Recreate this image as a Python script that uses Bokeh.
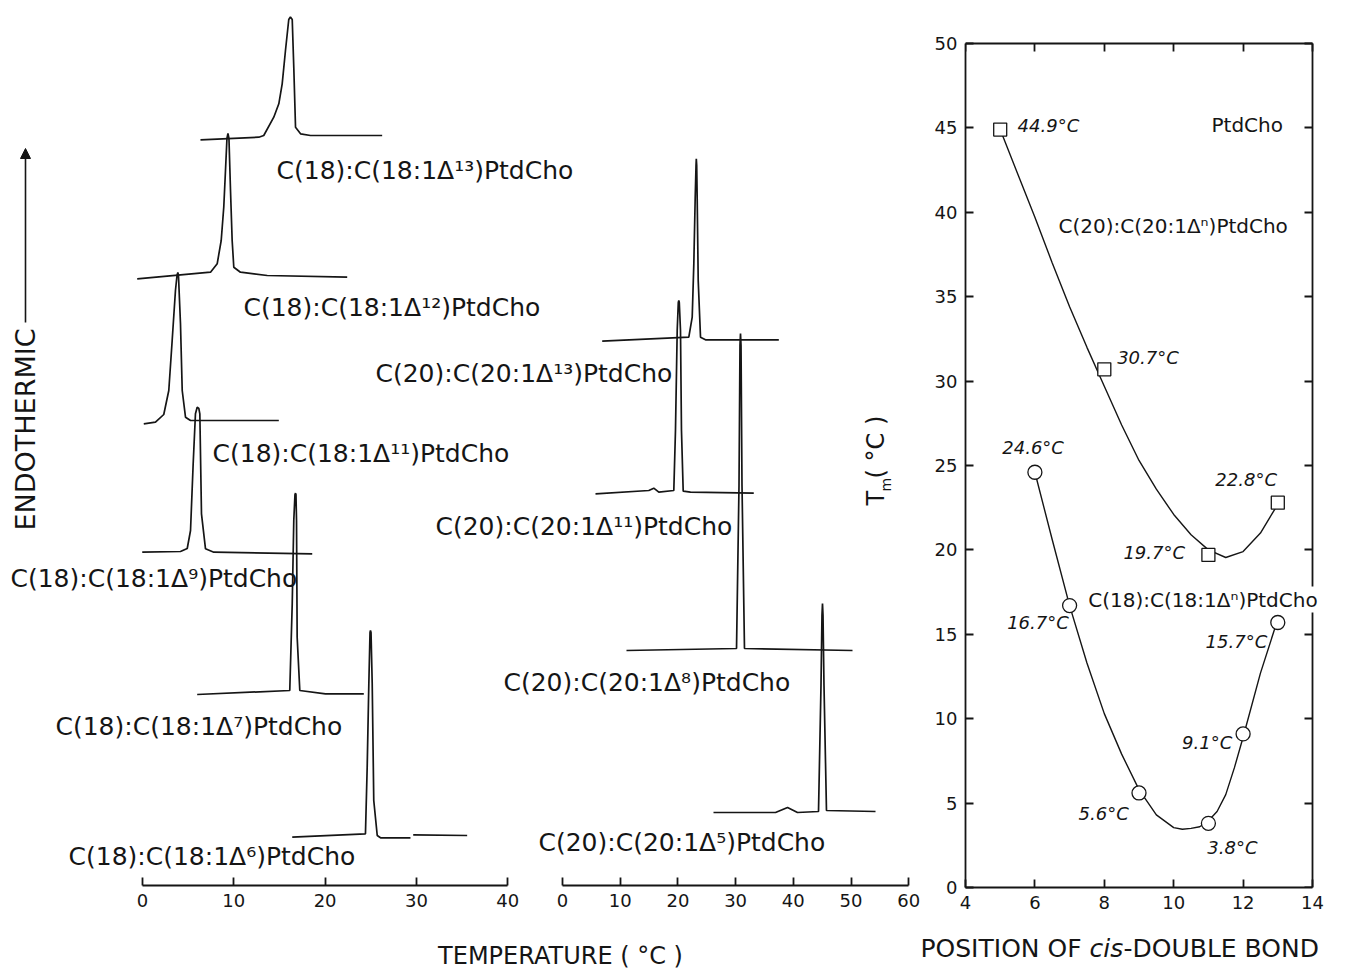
import math
from bokeh.plotting import figure
from bokeh.models import Range1d, LinearAxis, FixedTicker, Label, Arrow, NormalHead
from bokeh.layouts import row, column
from bokeh.embed import file_html
from bokeh.resources import INLINE

# ---------------- data ----------------
# Right panel: transition temperature vs position of the cis double bond
c18_positions = [6, 7, 9, 11, 12, 13]
c18_tm = [24.6, 16.7, 5.6, 3.8, 9.1, 15.7]
c20_positions = [5, 8, 11, 13]
c20_tm = [44.9, 30.7, 19.7, 22.8]

# fitted curves
c20_fit_x = [5.0, 5.5, 6.0, 6.5, 7.0, 7.5, 8.0, 8.5, 9.0, 9.5, 10.0, 10.5, 11.0, 11.5, 12.0, 12.5, 13.0]
c20_fit_y = [44.9, 42.3, 39.7, 37.0, 34.4, 32.0, 29.7, 27.4, 25.3, 23.6, 22.1, 20.9, 20.0, 19.55, 19.9, 21.0, 22.7]
c18_fit_x = [6.0, 6.5, 7.0, 7.5, 8.0, 8.5, 9.0, 9.5, 10.0, 10.25, 10.5, 10.75, 11.0, 11.25, 11.5, 11.75, 12.0, 12.5, 13.0]
c18_fit_y = [24.6, 20.6, 16.7, 13.3, 10.3, 7.9, 5.8, 4.3, 3.55, 3.45, 3.5, 3.6, 3.95, 4.5, 5.5, 7.1, 8.9, 12.7, 15.9]

# DSC thermograms: temperature (deg C) and endothermic signal (arbitrary units, stacked)
nan = float("nan")
c18_d13_T = [6.35, 12.74, 13.28, 14.38, 14.93, 15.30, 15.66, 16.02, 16.20, 16.40, 16.57, 16.76, 17.31, 18.40, 26.25]
c18_d13_S = [745.7, 748.3, 750.0, 768.3, 781.7, 801.7, 835.0, 866.0, 868.5, 866.0, 818.3, 758.3, 751.7, 750.0, 750.0]
c18_d12_T = [-0.58, 7.45, 8.18, 8.62, 8.90, 9.09, 9.25, 9.36, 9.47, 9.64, 9.82, 10.00, 10.73, 13.66, 22.42]
c18_d12_S = [606.7, 613.3, 621.7, 645.0, 678.3, 715.0, 747.0, 752.0, 747.0, 695.0, 645.0, 618.3, 613.3, 610.0, 608.3]
c18_d11_T = [0.14, 1.42, 2.33, 2.88, 3.25, 3.61, 3.78, 3.87, 3.94, 4.16, 4.35, 4.71, 5.26, 14.93]
c18_d11_S = [461.7, 463.3, 471.0, 495.0, 545.0, 595.0, 610.0, 613.0, 610.0, 562.0, 495.0, 468.3, 465.0, 465.0]
c18_d9_T = [-0.03, 4.16, 4.90, 5.26, 5.55, 5.80, 5.99, 6.17, 6.28, 6.46, 6.90, 7.81, 18.59]
c18_d9_S = [333.3, 334.0, 337.0, 355.0, 421.7, 471.7, 478.3, 477.0, 471.7, 371.7, 336.7, 333.3, 331.7]
c18_d7_T = [5.99, 16.13, 16.40, 16.57, 16.70, 16.76, 16.81, 16.87, 16.94, 17.23, 20.04, 24.24]
c18_d7_S = [191.0, 195.0, 281.7, 365.0, 391.0, 392.3, 391.0, 365.0, 248.3, 195.0, 191.7, 191.7]
c18_d6_T = [16.40, 24.42, 24.61, 24.79, 24.92, 24.97, 25.03, 25.16, 25.33, 25.71, 26.07, 29.35, nan, 29.65, 35.56]
c18_d6_S = [48.3, 51.7, 118.3, 201.7, 253.0, 255.0, 253.0, 201.7, 85.0, 50.0, 47.7, 47.7, nan, 50.7, 50.0]

c20_d13_T = [6.88, 21.89, 22.48, 22.76, 23.00, 23.14, 23.19, 23.26, 23.34, 23.52, 23.92, 24.78, 37.49]
c20_d13_S = [544.3, 548.3, 568.3, 621.7, 688.3, 720.0, 726.7, 720.0, 688.3, 605.0, 548.3, 545.7, 545.7]
c20_d11_T = [5.72, 14.96, 15.82, 16.69, 19.29, 19.58, 19.88, 20.07, 20.16, 20.24, 20.45, 20.62, 20.92, 22.18, 33.15]
c20_d11_S = [391.7, 395.0, 397.3, 393.3, 395.0, 455.0, 555.0, 583.0, 585.0, 583.0, 555.0, 455.0, 394.3, 393.3, 392.3]
c20_d8_T = [11.09, 30.16, 30.59, 30.76, 30.85, 30.94, 31.11, 31.54, 50.26]
c20_d8_S = [235.0, 237.0, 400.0, 540.0, 552.0, 540.0, 400.0, 237.0, 235.0]
c20_d5_T = [26.17, 36.92, 39.00, 40.73, 44.37, 44.80, 44.97, 45.06, 45.15, 45.32, 45.75, 54.25]
c20_d5_S = [73.0, 73.0, 78.0, 73.0, 74.0, 200.0, 270.0, 282.0, 270.0, 200.0, 75.0, 74.0]

c18_traces = [(13, c18_d13_T, c18_d13_S), (12, c18_d12_T, c18_d12_S), (11, c18_d11_T, c18_d11_S),
              (9, c18_d9_T, c18_d9_S), (7, c18_d7_T, c18_d7_S), (6, c18_d6_T, c18_d6_S)]
c20_traces = [(13, c20_d13_T, c20_d13_S), (11, c20_d11_T, c20_d11_S),
              (8, c20_d8_T, c20_d8_S), (5, c20_d5_T, c20_d5_S)]

left_ticks = [0, 10, 20, 30, 40]
mid_ticks = [0, 10, 20, 30, 40, 50, 60]
pos_ticks = [4, 6, 8, 10, 12, 14]
tm_ticks = [0, 5, 10, 15, 20, 25, 30, 35, 40, 45, 50]

# ---------------- layout / style ----------------
INK = "#151515"
FONT = "DejaVu Sans"
SUP = str.maketrans("0123456789n", "⁰¹²³⁴⁵⁶⁷⁸⁹ⁿ")
PX18, PX20 = 9.13, 5.77      # px per deg C in the two thermogram panels
X0_18, X0_20 = 142, 562      # screen x of 0 deg C
PXPOS, PXTM = 34.7, 16.88    # px per unit in the right panel
W, H = 1356, 969


def name(chain, n):
    return f"C({chain}):C({chain}:1Δ{str(n).translate(SUP)})PtdCho"


# label anchors (left edge, vertical middle) for the thermogram names
c18_label_pos = {13: (14.68, 715), 12: (11.06, 578), 11: (7.67, 432), 9: (-14.46, 307), 7: (-9.53, 159), 6: (-8.10, 29)}
c20_label_pos = {13: (-32.41, 512), 11: (-22.01, 359), 8: (-10.23, 203), 5: (-4.16, 43)}
# right-panel value label anchors
c18_val_pos = {6: (5.06, 26.07), 7: (5.2, 15.7), 9: (7.26, 4.38), 11: (10.97, 2.37), 12: (10.24, 8.59), 13: (10.92, 14.57)}
c20_val_pos = {5: (5.50, 45.17), 8: (8.37, 31.4), 11: (8.55, 19.85), 13: (11.2, 24.2)}


def base_fig(width, height, xr, yr, **borders):
    b = dict(min_border_left=0, min_border_right=0, min_border_top=0, min_border_bottom=0)
    b.update(borders)
    return figure(width=width, height=height, x_range=xr, y_range=yr, x_axis_type=None, y_axis_type=None,
                  toolbar_location=None, output_backend="svg", title_location=None,
                  outline_line_color=None, background_fill_color="white", border_fill_color="white", **b)


def style_axis(ax, ticks, show=True, tick_in=8, tick_out=0):
    ax.ticker = FixedTicker(ticks=ticks, minor_ticks=[])
    ax.minor_tick_line_color = None
    ax.major_tick_in = tick_in
    ax.major_tick_out = tick_out
    ax.axis_line_width = 1.8
    ax.major_tick_line_width = 1.8
    ax.axis_line_color = INK
    ax.major_tick_line_color = INK
    ax.major_label_text_font = FONT
    ax.major_label_text_font_size = "18px" if show else "1px"
    ax.major_label_text_color = INK if show else None
    ax.major_label_standoff = 8 if show else 0


def lab(fig, x, y, text, size, **kw):
    d = dict(text_font=FONT, text_font_size=size, text_color=INK, text_baseline="middle", text_align="left")
    d.update(kw)
    fig.add_layout(Label(x=x, y=y, text=text, **d))


# ---------------- left block: thermograms ----------------
LW, MAIN_H, STRIP_H, TOP_H = 920, 875, 55, 930
AX_Y = 885  # screen y of the temperature axes
main = base_fig(LW, MAIN_H, Range1d(-X0_18 / PX18, (LW - X0_18) / PX18), Range1d(AX_Y - MAIN_H, AX_Y))
main.extra_x_ranges = {"c20": Range1d(-X0_20 / PX20, (LW - X0_20) / PX20)}

for n, T, S in c18_traces:
    main.line(T, S, line_width=1.7, line_color=INK)
    lx, ly = c18_label_pos[n]
    lab(main, lx, ly, name(18, n), "25px")
for n, T, S in c20_traces:
    main.line(T, S, line_width=1.7, line_color=INK, x_range_name="c20")
    lx, ly = c20_label_pos[n]
    lab(main, lx, ly, name(20, n), "25px", x_range_name="c20")

# ENDOTHERMIC arrow
ex = (25 - X0_18) / PX18
lab(main, ex, 355, "ENDOTHERMIC", "27px", angle=math.pi / 2)
main.add_layout(Arrow(x_start=ex, y_start=563, x_end=ex, y_end=737, line_width=1.6, line_color=INK,
                      end=NormalHead(size=10, fill_color=INK, line_color=INK)))
# Tm axis title of the right panel (sits left of that panel)
tx = (875 - X0_18) / PX18
lab(main, tx, 380, "T", "24px", angle=math.pi / 2)
lab(main, tx + 1.1, 394, "m", "14px", angle=math.pi / 2)
lab(main, tx, 407, "( °C )", "24px", angle=math.pi / 2)

# axis strips (each temperature axis in its own strip so both sit at the same height)
SPLIT = 540
FRAME_H = AX_Y - MAIN_H
stripA = base_fig(SPLIT, STRIP_H, Range1d(-X0_18 / PX18, (SPLIT - X0_18) / PX18), Range1d(0, 1),
                  min_border_bottom=STRIP_H - FRAME_H)
axA = LinearAxis(bounds=(0, 40))
style_axis(axA, left_ticks)
stripA.add_layout(axA, "below")
stripB = base_fig(LW - SPLIT, STRIP_H, Range1d((SPLIT - X0_20) / PX20, (LW - X0_20) / PX20), Range1d(0, 1),
                  min_border_bottom=STRIP_H - FRAME_H)
axB = LinearAxis(bounds=(0, 60))
style_axis(axB, mid_ticks)
stripB.add_layout(axB, "below")

left_block = column(main, row(stripA, stripB, spacing=0), spacing=0)

# ---------------- right block: Tm vs position ----------------
RW = W - LW
FL, FB = 965 - LW, 887  # frame left (in figure) and screen y of Tm = 0
right = base_fig(RW, TOP_H, Range1d(4, 4 + (RW - FL) / PXPOS), Range1d(0, FB / PXTM),
                 min_border_left=FL, min_border_bottom=TOP_H - FB)
axL = LinearAxis(bounds=(0, 50))
style_axis(axL, tm_ticks)
right.add_layout(axL, "left")
axBt = LinearAxis(bounds=(4, 14))
style_axis(axBt, pos_ticks)
right.add_layout(axBt, "below")
axR = LinearAxis(bounds=(0, 50), fixed_location=14)
style_axis(axR, tm_ticks, show=False, tick_in=0, tick_out=8)
right.add_layout(axR, "left")
axT = LinearAxis(bounds=(4, 14), fixed_location=50)
style_axis(axT, pos_ticks, show=False, tick_in=0, tick_out=8)
right.add_layout(axT, "below")

right.line(c20_fit_x, c20_fit_y, line_width=1.4, line_color=INK)
right.line(c18_fit_x, c18_fit_y, line_width=1.4, line_color=INK)
right.scatter(c20_positions, c20_tm, marker="square", size=13, fill_color="white", line_color=INK, line_width=1.3)
right.scatter(c18_positions, c18_tm, marker="circle", size=14, fill_color="white", line_color=INK, line_width=1.3)

for pos, tm in zip(c20_positions, c20_tm):
    lx, ly = c20_val_pos[pos]
    lab(right, lx, ly, f"{tm:.1f}°C", "18px", text_font_style="italic")
for pos, tm in zip(c18_positions, c18_tm):
    lx, ly = c18_val_pos[pos]
    lab(right, lx, ly, f"{tm:.1f}°C", "18px", text_font_style="italic")

lab(right, 11.09, 45.17, "PtdCho", "20px")
lab(right, 6.68, 39.2, name(20, "n"), "20px")
lab(right, 7.51, 17.06, name(18, "n"), "20px", background_fill_color="white", padding=1)

# ---------------- bottom strip with both axis titles ----------------
BH = H - TOP_H
bottom = base_fig(W, BH, Range1d(0, W), Range1d(0, BH))
lab(bottom, 560, H - 955, "TEMPERATURE ( °C )", "24px", text_align="center")
for txt, off, style in (("POSITION OF ", 0, "normal"), ("cis", 169, "italic"), ("-DOUBLE BOND", 203, "normal")):
    lab(bottom, 920, H - 948, txt, "25px", x_offset=off, text_font_style=style)

layout = column(row(left_block, right, spacing=0), bottom, spacing=0)
open("out.html", "w").write(file_html(layout, INLINE))
